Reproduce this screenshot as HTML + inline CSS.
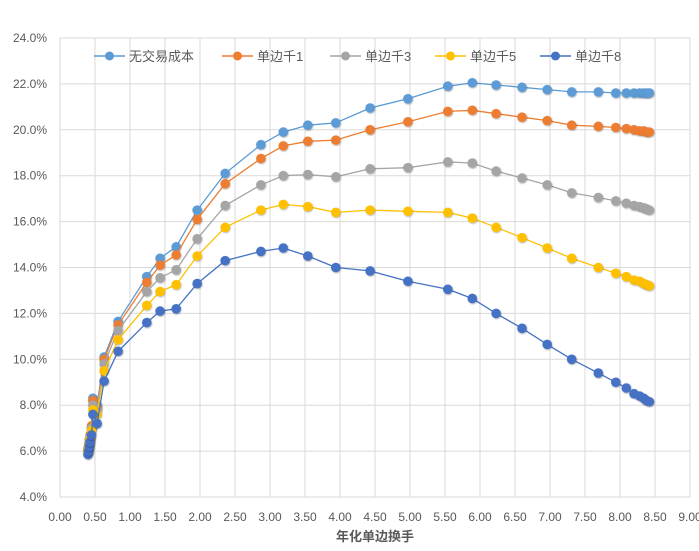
<!DOCTYPE html>
<html><head><meta charset="utf-8"><style>
html,body{margin:0;padding:0;background:#fff;}
svg text{font-family:"Liberation Sans","Noto Sans CJK SC",sans-serif;fill:#595959;}
</style></head><body>
<svg id="chart" width="699" height="546">
<defs><filter id="sh" x="-50%" y="-50%" width="200%" height="200%"><feDropShadow dx="0.5" dy="0.8" stdDeviation="0.8" flood-color="#000" flood-opacity="0.35"/></filter></defs>
<g id="grid"></g>
<g id="axes"></g>
<g id="series"></g>
<g id="legend"></g>
<text x="375" y="541" text-anchor="middle" font-size="13" font-weight="bold">年化单边换手</text>
</svg>
<script>
const xVals=[0.40,0.41,0.42,0.43,0.45,0.47,0.53,0.63,0.83,1.24,1.43,1.66,1.96,2.36,2.87,3.19,3.54,3.94,4.43,4.97,5.54,5.89,6.23,6.6,6.96,7.31,7.69,7.94,8.09,8.2,8.28,8.34,8.38,8.42];
const seriesNames=["无交易成本","单边千1","单边千3","单边千5","单边千8"];
const s0=[6.0,6.2,6.4,6.6,7.0,8.3,8.0,10.1,11.65,13.6,14.4,14.9,16.5,18.1,19.35,19.9,20.2,20.3,20.95,21.35,21.9,22.05,21.95,21.85,21.75,21.65,21.65,21.6,21.6,21.6,21.6,21.6,21.6,21.6];
const s1=[6.1,6.3,6.5,6.7,7.1,8.2,7.9,10.0,11.5,13.35,14.1,14.55,16.1,17.65,18.75,19.3,19.5,19.55,20.0,20.35,20.8,20.85,20.7,20.55,20.4,20.2,20.15,20.1,20.05,20.0,19.95,19.95,19.9,19.9];
const s3=[6.0,6.2,6.4,6.6,7.0,8.0,7.8,9.8,11.25,12.95,13.55,13.9,15.25,16.7,17.6,18.0,18.05,17.95,18.3,18.35,18.6,18.55,18.2,17.9,17.6,17.25,17.05,16.9,16.8,16.7,16.65,16.6,16.55,16.5];
const s5=[5.95,6.1,6.3,6.5,6.9,7.8,7.6,9.5,10.85,12.35,12.95,13.25,14.5,15.75,16.5,16.75,16.65,16.4,16.5,16.45,16.4,16.15,15.75,15.3,14.85,14.4,14.0,13.75,13.6,13.45,13.4,13.3,13.25,13.2];
const s8=[5.85,6.0,6.2,6.4,6.7,7.6,7.2,9.05,10.35,11.6,12.1,12.2,13.3,14.3,14.7,14.85,14.5,14.0,13.85,13.4,13.05,12.65,12.0,11.35,10.65,10.0,9.4,9.0,8.75,8.5,8.4,8.3,8.2,8.15];
const yTicks=[4,6,8,10,12,14,16,18,20,22,24];
const xTicks=[0,0.5,1,1.5,2,2.5,3,3.5,4,4.5,5,5.5,6,6.5,7,7.5,8,8.5,9];
const colors=["#5b9bd5","#ed7d31","#a5a5a5","#ffc000","#4472c4"];
const NS="http://www.w3.org/2000/svg";
const X0=60,X1=690,Y0=497,Y1=38;
function sx(v){return X0+(v-0)/(9-0)*(X1-X0);}
function sy(v){return Y0-(v-4)/(24-4)*(Y0-Y1);}
function mk(tag,attrs,parent){const e=document.createElementNS(NS,tag);for(const k in attrs)e.setAttribute(k,attrs[k]);parent.appendChild(e);return e;}
const grid=document.getElementById('grid'),axes=document.getElementById('axes'),ser=document.getElementById('series'),leg=document.getElementById('legend');
yTicks.forEach(t=>{
  const l=mk('line',{x1:X0,x2:X1,y1:sy(t),y2:sy(t),stroke:'#d9d9d9','stroke-width':1},grid);
  
  
  const tx=mk('text',{x:47,y:sy(t)+4,'text-anchor':'end','font-size':12},axes);
  tx.textContent=t.toFixed(1)+'%';
  
  
});
xTicks.forEach(t=>{
  const l=mk('line',{x1:sx(t),x2:sx(t),y1:Y1,y2:Y0,stroke:'#d9d9d9','stroke-width':1},grid);
  
  
  const tx=mk('text',{x:sx(t),y:521,'text-anchor':'middle','font-size':12},axes);
  tx.textContent=t.toFixed(2);
  
  
});
const all=[s0,s1,s3,s5,s8];
all.forEach((s,i)=>{
  const g=mk('g',{},ser);
  
  
  const d=s.map((v,j)=>(j?'L':'M')+sx(xVals[j]).toFixed(1)+' '+sy(v).toFixed(1)).join(' ');
  const p=mk('path',{d:d,fill:'none',stroke:colors[i],'stroke-width':1.3},g);
  
  
  s.forEach((v,j)=>{
    const c=mk('circle',{cx:sx(xVals[j]),cy:sy(v),r:4.8,fill:colors[i],filter:'url(#sh)'},g);
    
    
  });
});
const legX=[94,222,330,435,540];
seriesNames.forEach((n,i)=>{
  const g=mk('g',{},leg);
  
  
  mk('line',{x1:legX[i],x2:legX[i]+31,y1:56,y2:56,stroke:colors[i],'stroke-width':1.5},g);
  mk('circle',{cx:legX[i]+15.5,cy:56,r:4.5,fill:colors[i]},g);
  const t=mk('text',{x:legX[i]+35,y:61,'font-size':13},g);
  t.textContent=n;
});
</script>
</body></html>
